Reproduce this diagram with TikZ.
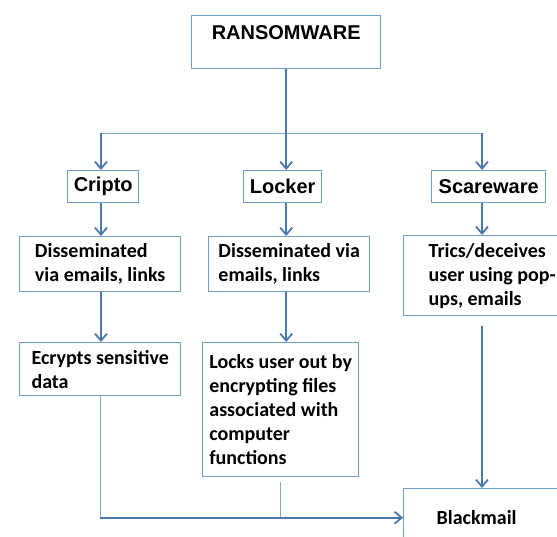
\documentclass[tikz,border=0pt]{standalone}
\usepackage{fontspec}
\setmainfont{Carlito}
\newfontfamily\headfont{Liberation Sans}
\usetikzlibrary{arrows.meta}
\definecolor{boxline}{HTML}{6E9FD6}
\definecolor{linkline}{HTML}{4A79AD}
\definecolor{feedline}{HTML}{7EAADB}

\begin{document}
\begin{tikzpicture}[x=1pt, y=-1pt,
  head/.style={rectangle, draw=boxline, line width=1.4pt, anchor=north west, minimum height=32pt, inner sep=0pt, font=\headfont\bfseries\fontsize{20}{24}\selectfont},
  info/.style={rectangle, draw=boxline, line width=1.4pt, anchor=north west, align=left, inner sep=0pt, font=\bfseries\fontsize{20}{24}\selectfont},
  link/.style={-{Straight Barb[length=7pt, width=12pt]}, line width=1.8pt, linkline},
  feed/.style={line width=0.9pt, feedline}
]
\useasboundingbox (0,0) rectangle (557,536);
\clip (0,0) rectangle (557,536);

% ===== Root and types =====
\node[head, minimum width=189pt, inner ysep=4pt, text height=20pt, text depth=25pt] (ransom) at (191,15) {RANSOMWARE};
\node[head, minimum width=71pt]  (cripto) at (67,170)  {Cripto};
\node[head, minimum width=78pt]  (locker) at (243,170) {Locker};
\node[head, minimum width=114pt] (scare)  at (431,170) {Scareware};

% ===== How each type works =====
\node[info, minimum width=161pt, minimum height=55pt] (dis1) at (19,236) {Disseminated\\via emails, links};
\node[info, minimum width=161pt, minimum height=55pt] (dis2) at (208,236) {Disseminated via\\emails, links};
\node[info, minimum width=177pt, minimum height=80pt] (tric) at (403,235) {Trics/deceives\\user using pop-\\ups, emails};
\node[info, minimum width=161pt, minimum height=53pt] (enc)  at (19,342) {Ecrypts sensitive\\data};
\node[info, minimum width=156pt, minimum height=134pt] (lock) at (202,342) {Locks user out by\\encrypting files\\associated with\\computer\\functions};
\node[info, text width=100pt, inner xsep=33pt, minimum height=58pt] (black) at (403,488) {Blackmail};

% ===== Branches =====
\coordinate (lt) at (101,133);
\coordinate (rt) at (482,133);
\draw[feed] (lt) -- (rt);
\draw[link] (ransom.south) -- (ransom.south |- locker.north);
\draw[link] (lt) -- (lt |- cripto.north);
\draw[link] (rt) -- (rt |- scare.north);

\draw[link] (lt |- cripto.south) -- (lt |- dis1.north);
\draw[link] (ransom.south |- locker.south) -- (ransom.south |- dis2.north);
\draw[link] (rt |- scare.south) -- (rt |- tric.north);
\draw[link] (lt |- dis1.south) -- (lt |- enc.north);
\draw[link] (ransom.south |- dis2.south) -- (ransom.south |- lock.north);

% ===== Into blackmail =====
\path (rt |- tric.south) ++(0,10) coordinate (tricfoot);
\draw[link] (tricfoot) -- (tricfoot |- black.north);
\path (lock.south) ++(0,5) coordinate (lockfoot);
\draw[feed] (enc.south) -- (enc.south |- black.west);
\draw[feed] (lockfoot) -- (lockfoot |- black.west);
\draw[link] (enc.south |- black.west) -- (black.west);

\end{tikzpicture}
\end{document}
